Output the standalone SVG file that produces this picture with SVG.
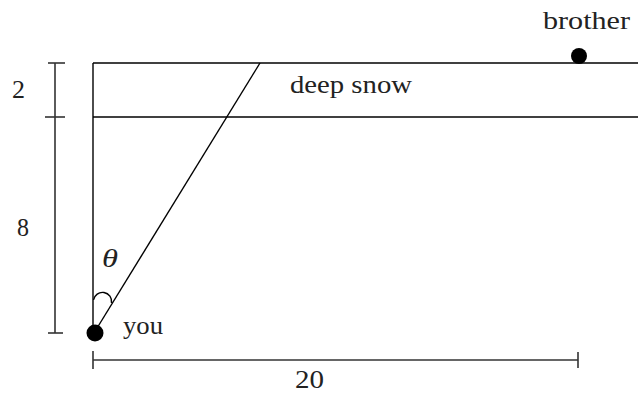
<svg xmlns="http://www.w3.org/2000/svg" width="638" height="393" viewBox="0 0 638 393">
<style>
.ln{stroke:#000;stroke-width:1.4;fill:none}
.dim{stroke:#333;stroke-width:1.6;fill:none}
.t{font-family:"Liberation Serif","Times New Roman",serif;font-size:26px;fill:#222}
</style>
<rect width="638" height="393" fill="#fff"/>
<g id="connectors">
<line class="ln" x1="93" y1="63" x2="638" y2="63"/>
<line class="ln" x1="93" y1="117" x2="638" y2="117"/>
<line class="ln" x1="93" y1="63" x2="93" y2="333"/>
<line class="ln" x1="94" y1="333" x2="260" y2="63"/>
<path class="ln" d="M93.5 300 A9 9 0 0 1 111.5 303"/>
</g>
<g id="dim-left">
<line class="dim" x1="55" y1="63" x2="55" y2="333"/>
<line class="dim" x1="48" y1="63" x2="65" y2="63"/>
<line class="dim" x1="45" y1="117" x2="65" y2="117"/>
<line class="dim" x1="48" y1="333" x2="63" y2="333"/>
<text class="t" x="12" y="98" textLength="13" lengthAdjust="spacingAndGlyphs">2</text>
<text class="t" x="17" y="236" textLength="12" lengthAdjust="spacingAndGlyphs">8</text>
</g>
<g id="dim-bottom">
<line class="dim" x1="93" y1="360" x2="578" y2="360"/>
<line class="dim" x1="93" y1="351" x2="93" y2="369"/>
<line class="dim" x1="578" y1="352" x2="578" y2="368"/>
<text class="t" x="295" y="388" textLength="29" lengthAdjust="spacingAndGlyphs">20</text>
</g>
<g id="you">
<circle cx="95" cy="333" r="8.5" fill="#000"/>
<text class="t" x="123" y="334" textLength="40" lengthAdjust="spacingAndGlyphs">you</text>
</g>
<g id="brother">
<circle cx="579" cy="56" r="8" fill="#000"/>
<text class="t" x="543" y="29" textLength="87" lengthAdjust="spacingAndGlyphs">brother</text>
</g>
<g id="deep-snow">
<text class="t" x="290" y="93" textLength="122" lengthAdjust="spacingAndGlyphs">deep snow</text>
</g>
<g id="theta">
<text class="t" x="102" y="267" font-style="italic" textLength="16" lengthAdjust="spacingAndGlyphs">θ</text>
</g>
</svg>
